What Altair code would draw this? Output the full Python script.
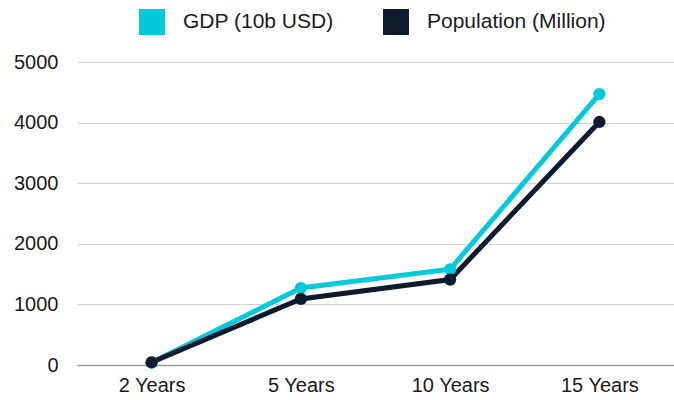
import altair as alt
import pandas as pd

# Chart data
periods = ["2 Years", "5 Years", "10 Years", "15 Years"]
gdp = [40, 1270, 1580, 4470]          # GDP (10b USD)
population = [45, 1090, 1410, 4010]   # Population (Million)
series_names = ["GDP (10b USD)", "Population (Million)"]
series_colors = ["#00C9DB", "#0E1A2E"]
y_ticks = [0, 1000, 2000, 3000, 4000, 5000]

rows = []
for name, values in zip(series_names, [gdp, population]):
    for p, v in zip(periods, values):
        rows.append({"period": p, "series": name, "value": v})
df = pd.DataFrame(rows)

FONT = "Liberation Sans"

x_enc = alt.X(
    "period:N",
    sort=periods,
    title=None,
    scale=alt.Scale(type="point", padding=0.5),
    axis=alt.Axis(
        labelAngle=0, ticks=False, grid=False, domain=True,
        domainColor="#9a9a9a", domainWidth=1.5,
        labelFontSize=20, labelPadding=10, labelColor="#1a1a1a", labelFont=FONT,
    ),
)
y_enc = alt.Y(
    "value:Q",
    title=None,
    scale=alt.Scale(domain=[0, 5000], nice=False),
    axis=alt.Axis(
        values=y_ticks, format="d", ticks=False, domain=False,
        gridColor="#d0d0d0", gridWidth=1,
        labelFontSize=20, labelPadding=19, labelColor="#1a1a1a", labelFont=FONT,
    ),
)
color_enc = alt.Color(
    "series:N",
    scale=alt.Scale(domain=series_names, range=series_colors),
    legend=alt.Legend(
        title=None, orient="none", direction="horizontal",
        legendX=62, legendY=-53,
        symbolType="square", symbolSize=676, symbolStrokeWidth=0,
        symbolOpacity=1,
        labelFontSize=21, labelFont=FONT, labelColor="#1a1a1a",
        labelOffset=18, columnPadding=49, padding=0, labelLimit=400,
    ),
)

lines = alt.Chart(df).mark_line(strokeWidth=5).encode(
    x=x_enc, y=y_enc, color=color_enc, detail="series:N"
)
points = alt.Chart(df).mark_point(filled=True, size=150, opacity=1).encode(
    x=x_enc, y=y_enc, color=color_enc
)

chart = (
    alt.layer(lines, points)
    .properties(
        width=597, height=303,
        autosize=alt.AutoSizeParams(type="none"),
        padding={"left": 77, "top": 62, "right": 0, "bottom": 35},
        background="white",
    )
    .configure_view(stroke=None)
)

chart.save("out.html", embed_options={"renderer": "svg", "actions": False})
